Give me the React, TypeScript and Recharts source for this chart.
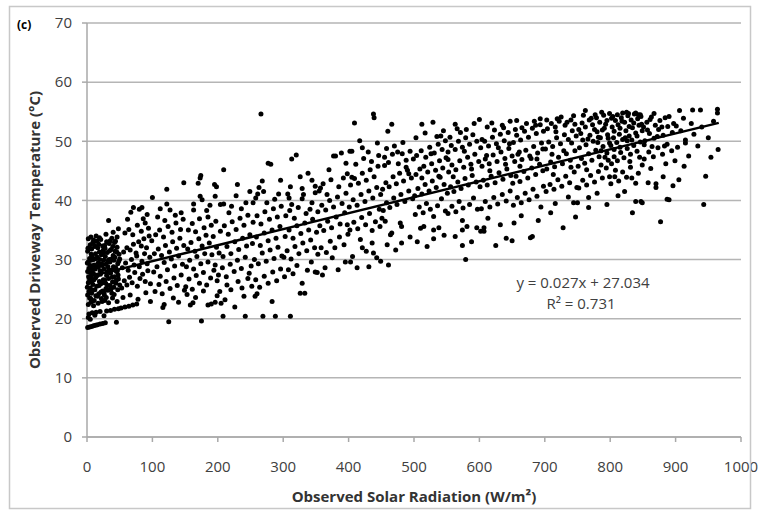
import { CartesianGrid, Label, ReferenceLine, Scatter, ScatterChart, XAxis, YAxis } from 'recharts';

type Pt = [number, number];

// Observed solar radiation (W/m²) vs driveway surface temperature (°C), grouped by radiation band
const band0to25: Pt[] = [
  [1, 18.5], [4, 18.6], [7, 18.7], [10, 18.8], [13, 18.9], [16, 19.0], [20, 19.1], [24, 19.2],
  [3, 20.8], [8, 21.0], [14, 21.1], [20, 21.2],
  [2, 22.4], [6, 22.8], [11, 23.1], [17, 22.6], [22, 23.4],
  [1, 24.0], [3, 24.6], [5, 25.2], [7, 24.3], [9, 25.8], [12, 24.9], [15, 25.5], [18, 24.2], [21, 25.9], [24, 24.7],
  [2, 26.1], [4, 26.7], [6, 27.2], [8, 26.4], [10, 27.6], [13, 26.9], [16, 27.4], [19, 26.3], [22, 27.9], [25, 26.6],
  [1, 28.0], [3, 28.5], [5, 27.8], [7, 28.9], [9, 28.3], [11, 29.1], [14, 28.7], [17, 29.4], [20, 28.1], [23, 29.0],
  [2, 29.6], [4, 30.2], [6, 29.9], [8, 30.6], [11, 30.1], [13, 31.0], [16, 30.4], [19, 31.3], [22, 30.8], [25, 31.6],
  [1, 31.4], [3, 32.0], [5, 32.5], [7, 31.8], [9, 32.9], [12, 32.2], [15, 33.1], [18, 32.6], [21, 33.4], [24, 32.3],
  [2, 33.5], [6, 33.8], [10, 33.3], [14, 34.0], [19, 33.7],
  [4, 23.5], [10, 22.2], [16, 23.8], [23, 22.9],
];

const band25to50: Pt[] = [
  [28, 19.3], [45, 19.4], [30, 21.3], [36, 21.4], [42, 21.6], [48, 21.7],
  [27, 23.1], [33, 22.7], [39, 23.5], [46, 22.9],
  [26, 24.4], [29, 25.1], [32, 24.8], [35, 25.6], [38, 24.3], [41, 25.3], [44, 26.0], [47, 24.9], [50, 25.7],
  [27, 26.5], [30, 27.3], [33, 26.8], [36, 27.7], [39, 26.2], [42, 27.1], [45, 28.0], [48, 26.7],
  [26, 28.4], [29, 29.2], [32, 28.8], [35, 29.6], [38, 28.2], [41, 29.9], [44, 28.6], [47, 29.3], [50, 30.1],
  [28, 30.5], [31, 31.2], [34, 30.0], [37, 31.7], [40, 30.7], [43, 31.4], [46, 32.1], [49, 30.9],
  [27, 32.4], [30, 33.0], [34, 32.7], [38, 33.6], [42, 32.9], [46, 33.8], [33, 36.6], [40, 34.6], [48, 35.2], [29, 34.3],
];

// extra early-morning readings packed near zero radiation
const dawnCluster: Pt[] = [
  [0.5, 25.3], [2.5, 27.1], [4.5, 29.0], [6.5, 30.9], [8.5, 24.8], [10.5, 26.6], [12.5, 28.4], [14.5, 30.2],
  [16.5, 32.0], [18.5, 25.6], [20.5, 27.5], [22.5, 29.3], [24.5, 31.1], [26.5, 24.0], [28.5, 26.0], [30.5, 27.9],
  [32.5, 29.8], [34.5, 31.5], [36.5, 25.0], [38.5, 27.0], [40.5, 28.8], [42.5, 30.4], [44.5, 26.4], [46.5, 28.1],
  [48.5, 29.7], [1.5, 31.9], [5.5, 23.4], [9.5, 30.0], [13.5, 23.9], [17.5, 28.8], [21.5, 24.5], [25.5, 29.9],
  [29.5, 23.6], [33.5, 28.3], [37.5, 30.1], [41.5, 24.1], [45.5, 31.3], [3.5, 26.2], [11.5, 32.4], [19.5, 30.0],
  [27.5, 31.9], [35.5, 33.2], [43.5, 33.1], [0.5, 29.4], [7.5, 23.0], [15.5, 27.3], [23.5, 26.1], [31.5, 25.6],
  [39.5, 32.2], [47.5, 27.4], [2, 20.2], [12, 20.6], [26, 20.5], [5, 19.9],
];

const band50to100: Pt[] = [
  [52, 21.8], [58, 22.0], [64, 22.1], [70, 22.3], [76, 22.5],
  [55, 23.6], [66, 24.0], [78, 23.3], [90, 24.4], [97, 22.9],
  [53, 25.2], [57, 26.4], [61, 25.7], [65, 27.0], [69, 26.1], [73, 27.8], [77, 25.5], [81, 26.8], [85, 27.5], [89, 26.3], [93, 28.1], [97, 25.9],
  [54, 28.6], [59, 29.4], [63, 28.2], [68, 30.0], [72, 29.1], [76, 30.6], [80, 28.8], [84, 29.7], [88, 31.0], [92, 29.3], [96, 30.4],
  [56, 31.3], [61, 32.0], [66, 31.6], [71, 32.6], [75, 31.1], [79, 33.0], [83, 32.3], [87, 33.5], [91, 32.0], [95, 34.0], [99, 33.2],
  [58, 34.5], [64, 35.1], [70, 34.2], [77, 35.8], [83, 34.8], [89, 36.2], [94, 35.3],
  [62, 36.8], [67, 38.0], [71, 38.8], [80, 38.5], [84, 38.8], [86, 36.9], [100, 40.5], [92, 37.6],
];

const band100to150: Pt[] = [
  [125, 19.5], [116, 21.9], [118, 22.4], [132, 23.5], [140, 22.8],
  [104, 24.6], [110, 25.8], [115, 24.2], [121, 26.3], [127, 25.1], [133, 26.9], [138, 25.6], [144, 27.4], [149, 24.8],
  [102, 27.9], [107, 28.8], [112, 27.2], [118, 29.5], [123, 28.3], [129, 30.1], [134, 28.9], [140, 30.6], [146, 29.2],
  [103, 31.0], [109, 31.8], [114, 30.7], [120, 32.4], [126, 31.3], [131, 33.0], [137, 31.9], [142, 33.6], [148, 32.4],
  [105, 34.2], [111, 35.0], [117, 33.8], [124, 35.6], [130, 34.6], [136, 36.2], [143, 35.1], [147, 36.8],
  [108, 37.2], [119, 36.6], [122, 39.4], [127, 38.4], [135, 37.5], [144, 37.9], [122, 41.9], [148, 43.0], [112, 38.6],
];

const band150to200: Pt[] = [
  [175, 19.6], [158, 22.3], [162, 22.7], [185, 22.3], [190, 22.5], [196, 22.8],
  [153, 24.1], [166, 23.6], [178, 24.7], [199, 23.9],
  [151, 25.4], [156, 26.7], [161, 25.0], [167, 27.3], [172, 26.0], [178, 27.8], [183, 25.7], [189, 26.9], [194, 28.2], [199, 26.4],
  [152, 28.8], [157, 29.9], [163, 28.4], [168, 30.5], [174, 29.3], [180, 31.0], [185, 29.6], [191, 30.8], [196, 29.1],
  [154, 31.8], [159, 32.9], [165, 31.4], [171, 33.5], [176, 32.3], [182, 34.1], [187, 32.8], [193, 33.9], [198, 32.1],
  [155, 35.0], [161, 36.1], [166, 34.7], [172, 36.9], [179, 35.4], [185, 37.2], [190, 35.8], [197, 36.5],
  [163, 38.4], [163, 39.4], [170, 42.9], [173, 40.7], [173, 43.8], [174, 44.2], [176, 40.1], [183, 38.3],
  [195, 42.7], [196, 40.7], [198, 42.3], [188, 39.2],
];

const band200to250: Pt[] = [
  [208, 20.4], [242, 20.4], [211, 23.2], [205, 22.6], [240, 23.8], [226, 22.0],
  [203, 24.6], [214, 25.7], [220, 24.9], [231, 26.3], [237, 25.2], [246, 26.8],
  [201, 27.4], [207, 28.6], [213, 27.1], [219, 29.2], [225, 28.0], [230, 29.9], [236, 28.5], [242, 30.4], [248, 27.7],
  [202, 31.1], [208, 30.5], [214, 32.2], [220, 31.0], [226, 33.0], [232, 31.7], [238, 33.6], [244, 32.3], [249, 34.2],
  [204, 34.8], [210, 35.7], [216, 34.3], [222, 36.4], [228, 35.1], [234, 37.0], [240, 35.8], [246, 37.5],
  [204, 39.3], [209, 39.4], [209, 45.2], [221, 39.0], [228, 40.8], [230, 42.7], [243, 39.6], [217, 37.9], [236, 38.6], [249, 41.5],
];

const band250to300: Pt[] = [
  [269, 20.4], [288, 20.4], [257, 23.8], [260, 24.2], [283, 22.9],
  [252, 25.5], [258, 26.6], [264, 25.3], [271, 27.2], [277, 26.0], [284, 27.9], [290, 26.4], [296, 28.4],
  [251, 28.9], [256, 30.0], [262, 29.3], [268, 31.1], [274, 29.7], [280, 31.6], [286, 30.2], [292, 32.1], [298, 30.6],
  [253, 32.7], [259, 33.8], [265, 32.4], [271, 34.5], [277, 33.2], [283, 35.0], [289, 33.6], [295, 35.6],
  [254, 36.3], [260, 37.4], [266, 36.0], [272, 38.1], [279, 36.8], [285, 38.6], [291, 37.2], [297, 39.0],
  [254, 39.6], [258, 40.4], [261, 41.1], [263, 42.2], [268, 43.3], [270, 41.5], [275, 39.6], [277, 46.3],
  [281, 46.1], [293, 41.1], [296, 43.4], [266, 54.6], [287, 40.2],
];

const band300to350: Pt[] = [
  [311, 20.4], [326, 24.3], [333, 24.3], [329, 26.0],
  [302, 27.1], [308, 28.3], [315, 27.6], [321, 29.0], [337, 28.2], [343, 29.6], [349, 27.9],
  [301, 30.4], [306, 31.5], [312, 30.1], [318, 32.2], [324, 31.0], [330, 32.8], [336, 31.5], [342, 33.3], [348, 32.0],
  [303, 33.9], [309, 35.0], [315, 33.6], [321, 35.7], [327, 34.4], [333, 36.2], [339, 35.0], [345, 36.8],
  [304, 37.4], [310, 38.3], [317, 37.0], [323, 38.8], [335, 37.8], [341, 38.5],
  [307, 41.1], [309, 40.4], [311, 42.3], [313, 39.3], [313, 47.0], [320, 47.7], [329, 42.0], [329, 40.3],
  [331, 41.0], [344, 43.4], [344, 39.6], [349, 42.4], [349, 41.3], [338, 44.6], [326, 44.0],
];

const band350to400: Pt[] = [
  [352, 27.8], [360, 27.4], [364, 28.6], [375, 30.3], [384, 28.3], [395, 29.6],
  [353, 30.9], [358, 32.0], [366, 31.2], [372, 33.1], [379, 32.0], [386, 33.8], [393, 32.5], [399, 34.3],
  [351, 34.6], [356, 35.7], [362, 34.9], [368, 36.5], [374, 35.4], [381, 37.2], [387, 36.0], [394, 37.9], [398, 35.9],
  [353, 38.1], [359, 39.2], [365, 38.4], [371, 40.0], [377, 38.9], [383, 40.6], [390, 39.5], [396, 41.2],
  [355, 41.6], [361, 42.8], [367, 41.0], [373, 43.5], [385, 42.3], [392, 43.8], [398, 44.5],
  [357, 42.1], [377, 47.5], [380, 47.5], [389, 48.0], [370, 45.2], [396, 46.3],
];

const band400to450: Pt[] = [
  [403, 29.6], [406, 30.5], [413, 28.6], [418, 33.4], [421, 32.0], [431, 28.8], [436, 34.9], [436, 32.8],
  [438, 31.1], [443, 30.3], [449, 29.7], [427, 31.4],
  [402, 35.0], [408, 36.3], [414, 35.2], [420, 37.1], [426, 35.9], [432, 37.8], [441, 36.4], [447, 38.5],
  [401, 38.9], [407, 40.1], [413, 39.2], [419, 41.0], [425, 39.8], [431, 41.6], [437, 40.4], [443, 42.2], [449, 41.0],
  [403, 42.6], [409, 43.7], [415, 42.9], [421, 44.6], [427, 43.4], [433, 45.2], [439, 44.0], [445, 45.8],
  [405, 43.9], [411, 46.1], [423, 47.1], [435, 46.6], [446, 47.6],
  [402, 48.3], [405, 48.3], [409, 53.1], [421, 48.9], [438, 54.6], [439, 54.0],
];

const band450to500: Pt[] = [
  [461, 29.1], [459, 32.5], [481, 32.8], [466, 34.5], [464, 34.2], [448, 35.6], [456, 36.5], [451, 37.0],
  [479, 36.2], [481, 35.6], [472, 31.6], [494, 33.8],
  [453, 38.3], [458, 39.6], [463, 38.8], [469, 40.4], [474, 39.3], [480, 41.0], [486, 39.8], [492, 41.6], [498, 40.3],
  [452, 41.9], [457, 43.0], [462, 42.3], [468, 44.0], [473, 42.8], [478, 44.6], [484, 43.3], [490, 45.1], [496, 43.8],
  [455, 45.9], [455, 47.3], [461, 46.4], [467, 47.8], [476, 46.2], [482, 47.9], [488, 46.8], [488, 45.6], [494, 48.3], [499, 47.0],
  [460, 51.7], [466, 52.9], [470, 49.2], [483, 49.8],
];

const band500to550: Pt[] = [
  [505, 33.0], [510, 35.3], [515, 35.6], [530, 35.0], [530, 33.5], [538, 35.4], [530, 37.3], [520, 32.2], [546, 34.1],
  [502, 37.6], [508, 38.9], [514, 37.9], [519, 39.5], [525, 38.5], [536, 39.1], [542, 40.3], [548, 38.2],
  [501, 40.8], [506, 42.0], [512, 41.1], [517, 42.7], [523, 41.6], [528, 43.3], [534, 42.2], [540, 43.9], [546, 42.7],
  [503, 44.4], [509, 45.3], [515, 45.8], [521, 44.8], [527, 46.2], [533, 45.1], [539, 46.7], [544, 45.5], [549, 47.2],
  [504, 47.6], [511, 48.4], [518, 47.3], [524, 49.0], [531, 48.0], [537, 49.5], [543, 48.6], [548, 50.1],
  [512, 52.9], [529, 53.2], [545, 51.8], [535, 50.8],
];

const band550to600: Pt[] = [
  [579, 30.0], [574, 32.4], [563, 33.9], [574, 35.0], [581, 35.6], [574, 36.6], [596, 35.4], [588, 33.0],
  [552, 37.8], [558, 39.0], [564, 38.1], [569, 39.8], [575, 38.7], [585, 39.3], [591, 40.4], [597, 38.5],
  [551, 41.2], [556, 42.3], [561, 41.5], [567, 43.1], [572, 42.0], [578, 43.7], [583, 42.6], [589, 44.2], [595, 43.1],
  [553, 44.8], [558, 46.0], [564, 45.2], [570, 46.7], [576, 45.6], [582, 47.3], [587, 46.1], [593, 47.8], [599, 46.6],
  [552, 48.2], [557, 49.3], [563, 48.6], [568, 50.0], [574, 49.0], [579, 50.6], [585, 49.5], [590, 51.1], [596, 50.0],
  [563, 52.9], [580, 52.0], [600, 53.7], [571, 51.5], [555, 50.7],
];

const band600to650: Pt[] = [
  [602, 34.8], [607, 35.4], [607, 34.8], [613, 37.0], [632, 35.9], [625, 32.4], [641, 33.6],
  [603, 38.6], [609, 39.8], [616, 38.9], [622, 40.5], [628, 39.4], [635, 41.0], [641, 39.9], [647, 41.6],
  [601, 42.3], [606, 43.4], [612, 42.6], [618, 44.1], [624, 43.0], [630, 44.7], [636, 43.6], [642, 45.3], [648, 44.2],
  [604, 45.8], [609, 47.0], [615, 46.2], [621, 47.7], [627, 46.6], [633, 48.2], [639, 47.1], [645, 48.8], [650, 47.5],
  [602, 48.9], [608, 50.0], [614, 49.2], [620, 50.7], [626, 49.6], [632, 51.2], [638, 50.1], [644, 51.5],
  [612, 52.4], [635, 52.7], [647, 53.4], [623, 51.9],
];

const band650to700: Pt[] = [
  [653, 36.2], [650, 33.2], [678, 33.7], [681, 33.9], [664, 37.4], [690, 36.6],
  [652, 39.2], [658, 40.5], [664, 39.6], [670, 41.2], [676, 40.1], [682, 41.9], [688, 40.7], [694, 38.9], [698, 42.4],
  [651, 42.9], [656, 44.1], [662, 43.2], [668, 44.9], [674, 43.8], [680, 45.5], [686, 44.4], [692, 46.1], [697, 45.0],
  [654, 46.6], [659, 47.8], [665, 46.9], [671, 48.5], [677, 47.5], [683, 49.1], [689, 48.0], [695, 49.7],
  [652, 49.8], [657, 51.0], [663, 50.2], [669, 51.7], [675, 50.7], [681, 52.2], [687, 51.3], [693, 52.8], [698, 51.7],
  [655, 52.0], [665, 52.3], [693, 53.8], [684, 53.4],
];

const band700to750: Pt[] = [
  [709, 37.9], [747, 37.2], [728, 35.4], [716, 39.5], [736, 40.6], [744, 39.6],
  [702, 41.5], [708, 42.7], [714, 41.9], [720, 43.5], [726, 42.4], [732, 44.1], [738, 43.0], [745, 44.8], [749, 42.2],
  [703, 45.3], [709, 46.5], [715, 45.7], [721, 47.3], [727, 46.2], [733, 47.9], [739, 46.8], [746, 48.4],
  [701, 48.7], [706, 49.9], [712, 49.1], [718, 50.6], [724, 49.6], [730, 51.1], [736, 50.3], [742, 51.8], [748, 50.9],
  [704, 52.1], [710, 53.0], [716, 52.4], [722, 53.4], [731, 52.7], [740, 53.6], [746, 52.9], [719, 53.8],
];

const band750to800: Pt[] = [
  [750, 39.6], [767, 38.8], [767, 40.5], [795, 39.3], [780, 41.2],
  [752, 42.1], [758, 43.4], [764, 42.6], [770, 44.2], [776, 43.1], [782, 44.9], [788, 43.8], [794, 45.5], [799, 44.0],
  [751, 45.8], [756, 47.1], [761, 46.3], [767, 47.9], [772, 46.8], [778, 48.5], [783, 47.4], [789, 49.1], [795, 48.0], [799, 49.7],
  [753, 48.9], [758, 50.2], [763, 49.4], [769, 51.0], [774, 50.0], [780, 51.6], [785, 50.6], [791, 52.2], [796, 51.1],
  [752, 52.0], [757, 53.1], [762, 52.4], [768, 53.6], [773, 52.8], [779, 54.0], [784, 53.2], [790, 54.4], [795, 53.5], [799, 54.7],
  [762, 55.2], [777, 54.5], [788, 51.9], [781, 49.8], [792, 47.3], [786, 46.0],
];

const band800to850: Pt[] = [
  [834, 37.9], [839, 39.8], [847, 39.8], [849, 39.6], [833, 43.8], [839, 42.9], [822, 41.5], [812, 40.8],
  [801, 42.8], [807, 44.0], [813, 43.3], [819, 44.8], [825, 43.9], [831, 45.6], [843, 44.6], [849, 46.0],
  [802, 46.2], [806, 47.4], [811, 46.7], [816, 48.1], [821, 47.2], [826, 48.8], [831, 47.8], [836, 49.3], [841, 48.3], [846, 49.9],
  [801, 49.3], [805, 50.6], [810, 49.8], [814, 51.2], [819, 50.3], [824, 51.8], [829, 50.9], [834, 52.3], [839, 51.4], [844, 52.7], [849, 51.8],
  [803, 52.4], [808, 53.5], [812, 52.8], [817, 54.0], [822, 53.2], [827, 54.3], [832, 53.6], [837, 54.6], [842, 53.8], [847, 54.2],
  [804, 54.2], [819, 54.8], [828, 54.7], [839, 54.8], [846, 54.5], [815, 49.0], [830, 46.6], [845, 47.3], [808, 45.1], [826, 50.1],
];

const band850to900: Pt[] = [
  [877, 36.4], [870, 42.2], [870, 42.8], [887, 40.2], [890, 40.1], [862, 45.4], [858, 43.0], [881, 44.0], [896, 42.5],
  [852, 47.0], [859, 48.2], [866, 47.4], [873, 48.9], [880, 47.8], [887, 49.5], [894, 48.4], [899, 46.7],
  [853, 50.1], [860, 51.3], [867, 50.5], [874, 52.0], [881, 51.0], [888, 52.5], [895, 51.5],
  [856, 53.2], [863, 54.1], [867, 54.7], [876, 53.5], [884, 54.0], [890, 54.2], [897, 53.0], [851, 52.4], [885, 46.2],
];

const band900to970: Pt[] = [
  [943, 39.3], [905, 43.5], [946, 44.1], [913, 45.8], [920, 47.5], [954, 47.3], [965, 48.6], [934, 49.2],
  [915, 49.7], [915, 50.2], [928, 51.2], [908, 51.8], [950, 50.6], [903, 49.0], [924, 53.0], [940, 52.4],
  [958, 53.4], [906, 55.2], [926, 55.3], [938, 55.3], [964, 55.4], [964, 54.8], [912, 53.9], [901, 52.6],
];

// extra midday readings along the hot upper edge of the cloud
const middayBand: Pt[] = [
  [503, 50.6], [517, 51.4], [526, 47.9], [541, 50.9], [552, 46.9], [566, 52.1], [577, 48.3], [592, 53.0],
  [604, 50.3], [611, 47.6], [619, 53.1], [629, 48.9], [637, 52.3], [646, 49.6], [657, 53.5], [661, 48.2],
  [672, 53.0], [679, 47.1], [686, 52.7], [697, 48.7], [703, 53.6], [711, 47.8], [717, 51.6], [725, 54.1],
  [729, 48.4], [734, 53.2], [741, 49.7], [744, 54.3], [755, 51.3], [759, 54.4], [766, 50.4], [771, 53.9],
  [776, 52.0], [782, 50.7], [787, 54.9], [793, 52.9], [797, 50.5], [802, 53.9], [806, 51.7], [811, 54.5],
  [815, 52.2], [818, 53.4], [823, 50.6], [825, 54.9], [829, 52.5], [833, 50.2], [836, 53.1], [841, 50.9],
  [843, 54.5], [848, 52.9], [852, 49.4], [857, 51.9], [861, 53.7], [864, 49.1], [869, 52.7], [872, 50.8],
  [879, 52.4], [883, 49.2], [786, 48.4], [806, 48.6], [797, 46.8], [764, 45.2], [740, 45.6], [713, 44.4],
  [688, 47.0], [662, 45.8], [640, 46.1], [616, 45.0], [588, 45.3], [560, 44.0], [538, 44.1], [512, 43.8],
  [492, 44.5], [475, 48.2], [458, 48.8], [444, 49.7], [430, 48.2], [417, 50.1],
];

const radiationTicks = [0, 100, 200, 300, 400, 500, 600, 700, 800, 900, 1000];
const temperatureTicks = [0, 10, 20, 30, 40, 50, 60, 70];

// least-squares fit printed on the chart
const slope = 0.027;
const intercept = 27.034;
const rSquared = 0.731;
const fitFrom = 0;
const fitTo = 966;

const observations = [
  band0to25, band25to50, dawnCluster, band50to100, band100to150, band150to200, band200to250,
  band250to300, band300to350, band350to400, band400to450, band450to500, band500to550,
  band550to600, band600to650, band650to700, band700to750, band750to800, band800to850,
  band850to900, band900to970, middayBand,
]
  .flat()
  .map(([x, y]) => ({ x, y }));

const fitLine = [
  { x: fitFrom, y: intercept + slope * fitFrom },
  { x: fitTo, y: intercept + slope * fitTo },
];

const axisGray = '#a9a9a9';
const textGray = '#404040';

const Dot = (props: { cx?: number; cy?: number }) => (
  <circle cx={props.cx} cy={props.cy} r={2.5} fill="#000" />
);

export default function App() {
  return (
    <div
      style={{
        position: 'absolute',
        left: 0,
        top: 0,
        width: 762,
        height: 514,
        background: '#fff',
        fontFamily: '"Open Sans", sans-serif',
      }}
    >
      <ScatterChart width={762} height={514} margin={{ top: 23, right: 21, bottom: 47, left: 27 }}>
        <CartesianGrid vertical={false} stroke="#b5b5b5" strokeWidth={1.5} />
        <XAxis
          type="number"
          dataKey="x"
          domain={[0, 1000]}
          ticks={radiationTicks}
          interval={0}
          height={30}
          tickSize={5}
          tickMargin={19}
          axisLine={{ stroke: axisGray, strokeWidth: 1.5 }}
          tickLine={{ stroke: axisGray, strokeWidth: 1.5 }}
          tick={{ fill: textGray, fontSize: 15 }}
        >
          <Label
            value="Observed Solar Radiation (W/m²)"
            position="bottom"
            offset={24}
            style={{ fontWeight: 700, fontSize: 15, fill: '#333' }}
          />
        </XAxis>
        <YAxis
          type="number"
          dataKey="y"
          domain={[0, 70]}
          ticks={temperatureTicks}
          interval={0}
          width={60}
          tickSize={5}
          tickMargin={10}
          axisLine={{ stroke: axisGray, strokeWidth: 1.5 }}
          tickLine={{ stroke: axisGray, strokeWidth: 1.5 }}
          tick={{ fill: textGray, fontSize: 15 }}
        >
          <Label
            value="Observed Driveway Temperature (°C)"
            position="insideLeft"
            angle={-90}
            offset={8}
            style={{ fontWeight: 700, fontSize: 15, fill: '#333', textAnchor: 'middle' }}
          />
        </YAxis>
        <Scatter data={observations} shape={Dot} isAnimationActive={false} />
        <ReferenceLine segment={fitLine} stroke="#000" strokeWidth={2.5} ifOverflow="visible" />
      </ScatterChart>

      <svg
        width={762}
        height={514}
        style={{ position: 'absolute', left: 0, top: 0, pointerEvents: 'none' }}
      >
        <rect x={9.5} y={6.5} width={741} height={502} fill="none" stroke="#c8c8c8" strokeWidth={1.5} />
        <text x={17} y={29} fontSize={12} fontWeight={700} fill="#000">
          (c)
        </text>
        <g fontSize={15} fill={textGray} textAnchor="middle">
          <text x={583} y={288}>
            y = {slope}x + {intercept}
          </text>
          <text x={581} y={309}>
            R² = {rSquared}
          </text>
        </g>
      </svg>
    </div>
  );
}
